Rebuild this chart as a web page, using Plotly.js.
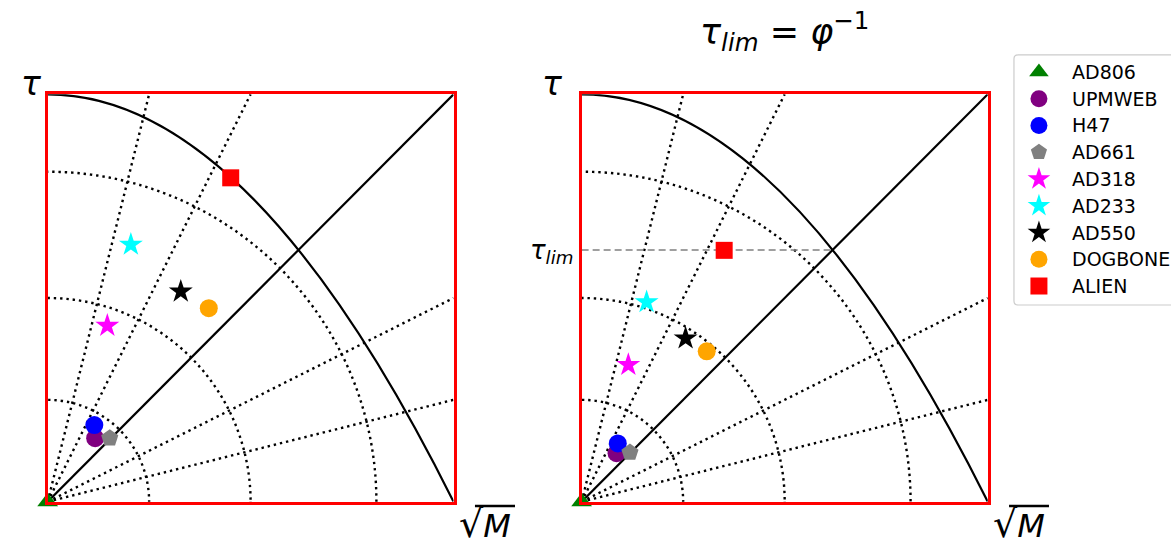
<!DOCTYPE html>
<html>
<head>
<meta charset="utf-8">
<script src="https://cdn.plot.ly/plotly-3.0.1.min.js"></script>
<style>
  body { margin: 0; background: #fff; }
  #graph { width: 1171px; height: 547px; }
</style>
</head>
<body>
<div id="graph"></div>
<script>
// samples, in legend order
const names = ['AD806', 'UPMWEB', 'H47', 'AD661', 'AD318', 'AD233', 'AD550', 'DOGBONE', 'ALIEN'];
const colors = ['green', 'purple', 'blue', 'gray', 'magenta', 'cyan', 'black', 'orange', 'red'];
const symbols = ['triangle-up', 'circle', 'circle', 'pentagon', 'star', 'star', 'star', 'circle', 'square'];

// left panel (sqrt(M), tau)
const leftX = [0, 0.117, 0.115, 0.153, 0.147, 0.205, 0.328, 0.397, 0.451];
const leftY = [0, 0.156, 0.188, 0.156, 0.432, 0.631, 0.516, 0.475, 0.795];
// right panel, tau_lim = 1/phi
const rightX = [0, 0.086, 0.089, 0.119, 0.115, 0.160, 0.256, 0.308, 0.351];
const rightY = [0, 0.119, 0.143, 0.121, 0.336, 0.490, 0.401, 0.369, 0.617];

// guide lines
const raySlopes = [0.25, 0.5, 2, 4];
const arcRadii = [0.25, 0.5, 0.81];
const tauLim = 0.618;

const sizes = [18, 18, 18, 18, 18, 18, 18, 18, 17];
const dotted = {color: 'black', width: 2.4, dash: '2.4px,3.9px'};

let data = [];
let shapes = [];
let annotations = [];

function addPanel(xa, ya, px, py) {
    raySlopes.forEach(function (s) {
        const end = s <= 1 ? [1, s] : [1 / s, 1];
        data.push({
            x: [0, end[0]], y: [0, end[1]], xaxis: xa, yaxis: ya,
            mode: 'lines', line: dotted,
            showlegend: false, hoverinfo: 'skip'
        });
    });
    data.push({
        x: [0, 1], y: [0, 1], xaxis: xa, yaxis: ya,
        mode: 'lines', line: {color: 'black', width: 2.2},
        showlegend: false, hoverinfo: 'skip'
    });
    if (xa === 'x2') {
        data.push({
            x: [0, tauLim], y: [tauLim, tauLim], xaxis: xa, yaxis: ya,
            mode: 'lines', line: {color: 'gray', width: 1.4, dash: '7px,4px'},
            showlegend: false, hoverinfo: 'skip'
        });
    }
    arcRadii.forEach(function (r) {
        shapes.push({
            type: 'circle', xref: xa, yref: ya, x0: -r, y0: -r, x1: r, y1: r,
            line: dotted, layer: 'below'
        });
    });
    shapes.push({
        type: 'path', xref: xa, yref: ya, path: 'M0,1 Q0.5,1 1,0',
        line: {color: 'black', width: 2.2}, layer: 'below'
    });
    for (let i = 0; i < names.length; i++) {
        data.push({
            x: [px[i]], y: [py[i]], xaxis: xa, yaxis: ya,
            mode: 'markers', name: names[i], showlegend: false, cliponaxis: false,
            marker: {color: colors[i], symbol: symbols[i], size: sizes[i], line: {width: 0}}
        });
    }
}

addPanel('x', 'y', leftX, leftY);
addPanel('x2', 'y2', rightX, rightY);

// legend drawn on its own hidden axes so spacing matches the original
for (let i = 0; i < names.length; i++) {
    data.push({
        x: [0.159], y: [i], xaxis: 'x3', yaxis: 'y3',
        mode: 'markers', showlegend: false, hoverinfo: 'skip', cliponaxis: false,
        marker: {color: colors[i], symbol: symbols[i], size: 17, line: {width: 0}}
    });
    annotations.push({
        text: names[i], xref: 'x3', yref: 'y3', x: 0.357, y: i,
        xanchor: 'left', yanchor: 'middle', showarrow: false,
        font: {size: 19, family: 'DejaVu Sans'}
    });
}
// legend frame with rounded left corners
const lx0 = 0.8659, lx1 = 1.01, ly0 = 0.4424, ly1 = 0.8995, rx = 0.0034, ry = 0.0073;
shapes.push({
    type: 'path', xref: 'paper', yref: 'paper', layer: 'below',
    path: 'M' + lx0 + ',' + (ly0 + ry) + ' L' + lx0 + ',' + (ly1 - ry) +
        ' Q' + lx0 + ',' + ly1 + ' ' + (lx0 + rx) + ',' + ly1 + ' L' + lx1 + ',' + ly1 +
        ' L' + lx1 + ',' + ly0 + ' L' + (lx0 + rx) + ',' + ly0 +
        ' Q' + lx0 + ',' + ly0 + ' ' + lx0 + ',' + (ly0 + ry) + ' Z',
    line: {color: '#cccccc', width: 1.2}, fillcolor: 'rgba(0,0,0,0)'
});

const axBase = {
    range: [0, 1], showgrid: false, zeroline: false, ticks: '',
    showline: true, mirror: true, linecolor: 'red', linewidth: 3,
    showticklabels: false, fixedrange: true
};
const hidden = {showgrid: false, zeroline: false, showline: false, showticklabels: false, ticks: '', fixedrange: true};

// overlines of the square roots
shapes.push({type: 'line', xref: 'paper', yref: 'paper', x0: 0.4056, x1: 0.4398, y0: 0.075, y1: 0.075,
    line: {color: 'black', width: 2.5}});
shapes.push({type: 'line', xref: 'paper', yref: 'paper', x0: 0.8617, x1: 0.8958, y0: 0.075, y1: 0.075,
    line: {color: 'black', width: 2.5}});

annotations.push(
    {text: '<i>τ</i><sub><i>lim</i></sub> = <i>φ</i><sup>−1</sup>', xref: 'paper', yref: 'paper',
        x: 0.670, y: 0.9415, xanchor: 'center', yanchor: 'middle', showarrow: false, font: {size: 35}},
    {text: '<i>τ</i>', xref: 'paper', yref: 'paper', x: 0.0273, y: 0.848,
        xanchor: 'center', yanchor: 'middle', showarrow: false, font: {size: 33}},
    {text: '<i>τ</i>', xref: 'paper', yref: 'paper', x: 0.4714, y: 0.848,
        xanchor: 'center', yanchor: 'middle', showarrow: false, font: {size: 33}},
    {text: '<span style="font-size:38px">√</span><i>M</i>', xref: 'paper', yref: 'paper', x: 0.4142, y: 0.042,
        xanchor: 'center', yanchor: 'middle', showarrow: false, font: {size: 32}},
    {text: '<span style="font-size:38px">√</span><i>M</i>', xref: 'paper', yref: 'paper', x: 0.8702, y: 0.042,
        xanchor: 'center', yanchor: 'middle', showarrow: false, font: {size: 32}}
);

let layout = {
    width: 1171, height: 547, autosize: false,
    margin: {l: 0, r: 0, t: 0, b: 0},
    paper_bgcolor: 'white', plot_bgcolor: 'white',
    font: {family: 'DejaVu Sans', color: 'black'},
    xaxis: Object.assign({}, axBase, {domain: [0.0407, 0.3873]}),
    yaxis: Object.assign({}, axBase, {domain: [0.0828, 0.8276]}),
    xaxis2: Object.assign({}, axBase, {domain: [0.4967, 0.8435], anchor: 'y2'}),
    yaxis2: Object.assign({}, axBase, {
        domain: [0.0828, 0.8276], anchor: 'x2',
        showticklabels: true, tickvals: [tauLim],
        ticktext: ['<i>τ</i><sub><i>lim</i></sub>'],
        tickfont: {size: 26, family: 'DejaVu Sans'}
    }),
    xaxis3: Object.assign({}, hidden, {domain: [0.8659, 1], range: [0, 1], anchor: 'y3'}),
    yaxis3: Object.assign({}, hidden, {domain: [0.4424, 0.8995], range: [8.71, -0.636], anchor: 'x3'}),
    showlegend: false,
    shapes: shapes,
    annotations: annotations
};

Plotly.newPlot('graph', data, layout, {staticPlot: true});
</script>
</body>
</html>
